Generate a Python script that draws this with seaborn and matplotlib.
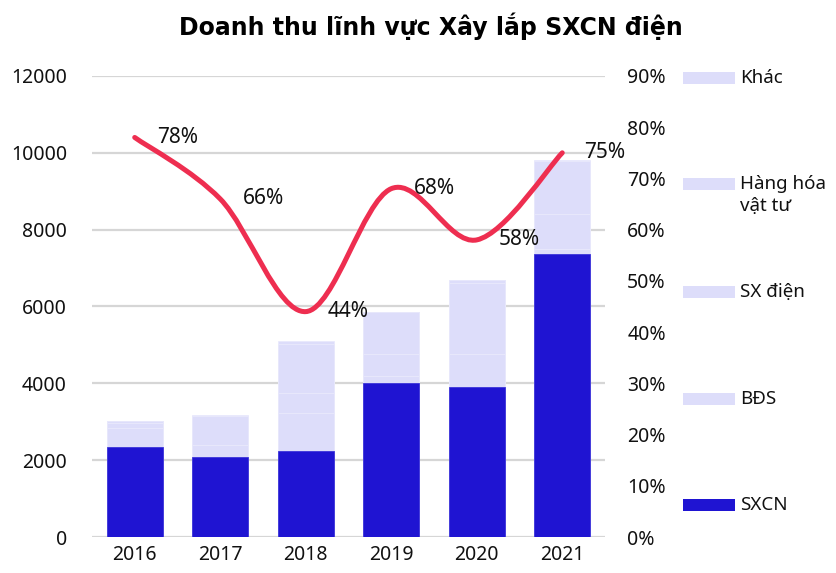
import numpy as np
import pandas as pd
import matplotlib
matplotlib.use("Agg")
import matplotlib.pyplot as plt
from matplotlib.path import Path
from matplotlib.patches import PathPatch, Rectangle
import seaborn as sns

# data
years = ["2016", "2017", "2018", "2019", "2020", "2021"]
sxcn = [2350, 2080, 2240, 4000, 3895, 7375]
bds = [480, 310, 980, 200, 860, 115]
sx_dien = [130, 750, 540, 555, 1865, 910]
hang_hoa = [60, 20, 1255, 1095, 60, 1400]
khac = [0, 10, 85, 0, 0, 20]
ty_trong = [0.78, 0.66, 0.44, 0.68, 0.58, 0.75]

series_names = ["SXCN", "BĐS", "SX điện", "Hàng hóa\nvật tư", "Khác"]
series_vals = [sxcn, bds, sx_dien, hang_hoa, khac]

dark = "#1F14D2"
light = "#DDDDFA"
red = "#EE2E50"
colors = [dark, light, light, light, light]

sns.set_theme(style="white")
plt.rcParams["font.family"] = ["Noto Sans", "DejaVu Sans"]

df = pd.DataFrame({"year": years})
cum = np.zeros(len(years))
cums = []
for v in series_vals:
    cum = cum + np.array(v)
    cums.append(cum.copy())

fig = plt.figure(figsize=(8.36, 5.73), dpi=100)
ax = fig.add_axes([0.110, 0.0628, 0.6137, 0.8046])

# stacked bars: draw the tallest cumulative first
for name, c, col in reversed(list(zip(series_names, cums, colors))):
    df["v"] = c
    edge = "#E9E9FC" if col == light else "#3C34DA"
    sns.barplot(data=df, x="year", y="v", color=col, width=0.65,
                edgecolor=edge, linewidth=0.6, saturation=1, ax=ax)

ax.set_ylim(0, 12000)
ax.set_xlim(-0.5, 5.5)
ax.set_yticks(range(0, 12001, 2000))
ax.yaxis.grid(True, color="#D6D6D6", linewidth=1.6)
ax.set_axisbelow(True)
for s in ax.spines.values():
    s.set_visible(False)
ax.set_xlabel("")
ax.set_ylabel("")
ax.tick_params(axis="both", labelsize=14, length=0, colors="#111111")
ax.tick_params(axis="x", pad=6)
ax.tick_params(axis="y", pad=18)

# secondary axis: smoothed line
ax2 = ax.twinx()
ax2.set_ylim(0, 0.9)
ax2.set_yticks(np.arange(0, 0.91, 0.1))
ax2.set_yticklabels([f"{int(round(t*100))}%" for t in np.arange(0, 0.91, 0.1)])
ax2.tick_params(axis="y", labelsize=14, length=0, pad=16, colors="#111111")
for s in ax2.spines.values():
    s.set_visible(False)
ax2.grid(False)

x = np.arange(len(years), dtype=float)
y = np.array(ty_trong)
pts = np.column_stack([x, y])
ext = np.vstack([pts[0], pts, pts[-1]])
verts = [tuple(pts[0])]
codes = [Path.MOVETO]
for i in range(len(pts) - 1):
    p0, p1, p2, p3 = ext[i], ext[i + 1], ext[i + 2], ext[i + 3]
    c1 = p1 + (p2 - p0) / 6
    c2 = p2 - (p3 - p1) / 6
    verts += [tuple(c1), tuple(c2), tuple(p2)]
    codes += [Path.CURVE4] * 3
ax2.add_patch(PathPatch(Path(verts, codes), facecolor="none", edgecolor=red,
                        linewidth=3.6, capstyle="round", zorder=5))

for xi, yi in zip(x, y):
    ax2.annotate(f"{int(round(yi*100))}%", (xi, yi), xytext=(16, 0),
                 textcoords="offset points", ha="left", va="center",
                 fontsize=15, color="#111111", zorder=6)

fig.suptitle("Doanh thu lĩnh vực Xây lắp SXCN điện", x=0.515, y=0.978,
             fontsize=17, fontweight="bold", color="#000000",
             family=["DejaVu Sans"])

# legend on the right
leg_y = [78, 184, 292, 399, 505]
leg_names = ["Khác", "Hàng hóa\nvật tư", "SX điện", "BĐS", "SXCN"]
leg_cols = [light, light, light, light, dark]
W, H = 836, 573
for ly, nm, col in zip(leg_y, leg_names, leg_cols):
    fig.patches.append(Rectangle((683 / W, 1 - (ly + 6) / H), 52 / W, 12 / H,
                                 transform=fig.transFigure, facecolor=col,
                                 edgecolor="none"))
    fig.text(740 / W, 1 - (ly - 9) / H, nm, ha="left", va="top",
             fontsize=13.5, color="#111111", linespacing=1.25)

fig.savefig("out.png", dpi=100)
